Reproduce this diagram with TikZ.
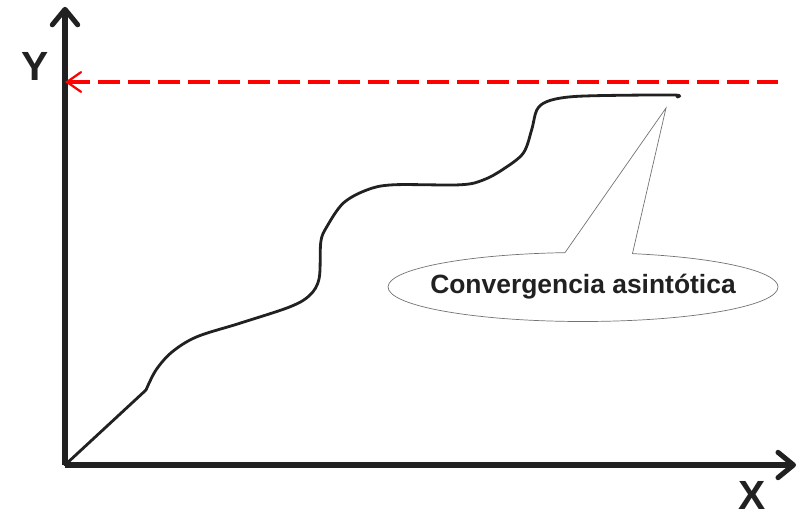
\documentclass[tikz,border=0pt]{standalone}
\usepackage{fontspec}
\setmainfont{Liberation Sans}
\usetikzlibrary{arrows.meta,shapes.callouts}

\tikzset{
  axis/.style={line width=3.6pt, draw=black!87, line cap=butt,
    -{Straight Barb[length=11pt,width=18pt,line cap=round,line join=round]}},
  limit/.style={line width=2.2pt, red, dash pattern=on 15.6pt off 5.7pt,
    {Straight Barb[length=10pt,width=14pt,line width=1.6pt,line cap=round]}-},
  growth/.style={line width=2pt, black!87, line cap=round, line join=round},
  axlabel/.style={font=\bfseries\fontsize{29}{32}\selectfont, text=black!87},
  note/.style={ellipse callout, draw=black!55, line width=0.5pt, inner sep=0pt,
    minimum width=9.75cm, minimum height=1.725cm, callout pointer arc=20,
    font=\bfseries\fontsize{18.8}{22}\selectfont, text=black!87}
}

\begin{document}
\begin{tikzpicture}
  \useasboundingbox (0,0) rectangle (19.95,12.95);

  \coordinate (O) at (1.625,1.325);
  \coordinate (ytop) at (1.625,12.78);
  \coordinate (xend) at (19.9,1.325);
  \coordinate (yhit) at (1.625,10.9);
  \coordinate (asym) at (19.45,10.9);
  \coordinate (tip) at (16.65,10.25);

  % axes
  \draw[axis] (O) -- (ytop);
  \draw[axis] (O) -- (xend);
  \node[axlabel] (ylabel) at (0.875,11.28) {Y};
  \node[axlabel] (xlabel) at (18.8,0.56) {X};

  % limit
  \draw[limit] (yhit) -- (asym);

  % curve
  \draw[growth] (O) -- (3.65,3.2) plot[smooth, tension=0.55] coordinates {
    (3.65,3.2) (3.9,3.7) (4.3,4.15) (4.92,4.53) (6.0,4.87)
    (7.25,5.28) (7.75,5.575) (7.98,6.0) (8.02,6.9) (8.17,7.28) (8.58,7.87)
    (9.17,8.2) (9.83,8.33) (11.5,8.33) (12.08,8.45) (12.58,8.72) (13.08,9.12)
    (13.29,9.7) (13.42,10.2) (13.67,10.41) (14.17,10.52) (15,10.56)
    (16.83,10.575) (16.93,10.525)};

  \node[note, callout absolute pointer={(tip)}] (conv) at (14.575,5.775)
    {\makebox[6.5cm]{Convergencia asintótica}};
\end{tikzpicture}
\end{document}
